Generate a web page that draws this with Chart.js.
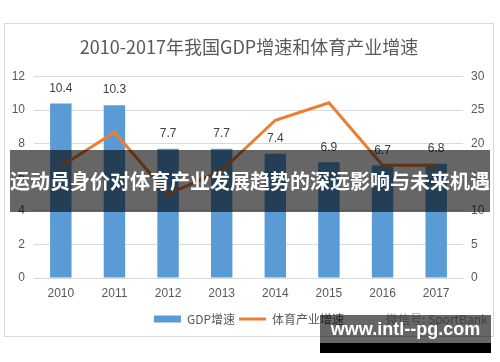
<!DOCTYPE html>
<html>
<head>
<meta charset="utf-8">
<script src="https://cdn.jsdelivr.net/npm/chart.js@4"></script>
<style>
  body { margin: 0; background: #fff; width: 500px; height: 362px; position: relative; overflow: hidden; }
  #frame { position: absolute; left: 4px; top: 23px; width: 488px; height: 312px; border: 1px solid #d9d9d9; }
  #wechat { position: absolute; left: 386px; top: 310px; font: 12px "Noto Sans CJK SC", sans-serif; color: #a6a6a6; }
  #banner { position: absolute; left: 10px; top: 150px; width: 480px; height: 62px; background: rgba(0,0,0,0.6);
            color: #fff; font: bold 20px "Noto Sans CJK SC", sans-serif; line-height: 62px; text-align: center; white-space: nowrap; }
  #mark { position: absolute; left: 320px; top: 315px; width: 171px; height: 28px; background: rgba(0,0,0,0.6);
          color: #fff; font: bold 18px "Liberation Sans", sans-serif; line-height: 28px; text-align: center; }
  #markbar { position: absolute; left: 320px; top: 343px; width: 171px; height: 10px; background: #000; }
</style>
</head>
<body>
<div id="frame"><canvas id="gdpChart" width="488" height="312"></canvas></div>
<div id="wechat">微信号: SportBank</div>
<div id="banner">运动员身价对体育产业发展趋势的深远影响与未来机遇</div>
<div id="mark">www.intl--pg.com</div>
<div id="markbar"></div>
<script>
const years = ['2010', '2011', '2012', '2013', '2014', '2015', '2016', '2017'];
const gdpGrowth = [10.4, 10.3, 7.7, 7.7, 7.4, 6.9, 6.7, 6.8];
const sportGrowth = [16.6, 21.7, 12.5, 16.0, 23.5, 26.1, 16.8, 16.8];

const font = '"Noto Sans CJK SC", sans-serif';

/** value labels above the bars */
const barLabels = {
  id: 'barLabels',
  afterDatasetsDraw(chart) {
    const ctx = chart.ctx;
    const meta = chart.getDatasetMeta(0);
    ctx.save();
    ctx.font = '12px "Liberation Sans", sans-serif';
    ctx.fillStyle = '#404040';
    ctx.textAlign = 'center';
    ctx.textBaseline = 'middle';
    meta.data.forEach(function (bar, i) {
      ctx.fillText(gdpGrowth[i].toFixed(1), bar.x, bar.y - 15);
    });
    ctx.restore();
  }
};

document.addEventListener("DOMContentLoaded", function () {
  const ctx = document.getElementById('gdpChart').getContext('2d');
  new Chart(ctx, {
    type: 'bar',
    data: {
      labels: years,
      datasets: [{
        label: 'GDP增速',
        data: gdpGrowth,
        backgroundColor: '#5b9bd5',
        barPercentage: 0.4,
        categoryPercentage: 1,
        yAxisID: 'y',
        order: 1
      }, {
        type: 'line',
        label: '体育产业增速',
        data: sportGrowth,
        borderColor: '#ed7d31',
        borderWidth: 3,
        pointRadius: 0,
        tension: 0,
        fill: false,
        yAxisID: 'y1',
        order: 0
      }]
    },
    options: {
      responsive: false,
      animation: false,
      layout: { padding: { left: 0, right: 0, top: 0, bottom: 1 } },
      plugins: {
        tooltip: { enabled: false },
        title: {
          display: true,
          text: '2010-2017年我国GDP增速和体育产业增速',
          color: '#595959',
          font: { family: font, size: 18, weight: 'normal' },
          padding: { top: 12, bottom: 19 }
        },
        legend: {
          position: 'bottom',
          align: 'center',
          labels: {
            color: '#595959',
            font: { family: font, size: 12 },
            usePointStyle: true,
            pointStyleWidth: 27,
            boxHeight: 7,
            padding: 4,
            generateLabels: function (chart) {
              return [{
                text: 'GDP增速', fillStyle: '#5b9bd5', strokeStyle: '#5b9bd5',
                lineWidth: 0, pointStyle: 'rect', datasetIndex: 0, fontColor: '#595959'
              }, {
                text: '体育产业增速', fillStyle: '#ed7d31', strokeStyle: '#ed7d31',
                lineWidth: 3, pointStyle: 'line', datasetIndex: 1, fontColor: '#595959'
              }];
            }
          }
        }
      },
      scales: {
        x: {
          grid: { display: false, drawTicks: false },
          border: { color: '#d9d9d9' },
          ticks: { color: '#595959', font: { family: '"Liberation Sans", sans-serif', size: 12 }, padding: 8 },
          afterFit: function (scale) { scale.height = 31; }
        },
        y: {
          position: 'left',
          min: 0, max: 12,
          ticks: { stepSize: 2, color: '#595959', font: { family: '"Liberation Sans", sans-serif', size: 12 }, padding: 9 },
          grid: { color: '#d9d9d9', drawTicks: false },
          border: { display: false },
          afterFit: function (scale) { scale.width = 29; }
        },
        y1: {
          position: 'right',
          min: 0, max: 30,
          ticks: { stepSize: 5, color: '#595959', font: { family: '"Liberation Sans", sans-serif', size: 12 }, padding: 8 },
          grid: { display: false, drawTicks: false },
          border: { display: false },
          afterFit: function (scale) { scale.width = 30; }
        }
      }
    },
    plugins: [barLabels]
  });
});
</script>
</body>
</html>
